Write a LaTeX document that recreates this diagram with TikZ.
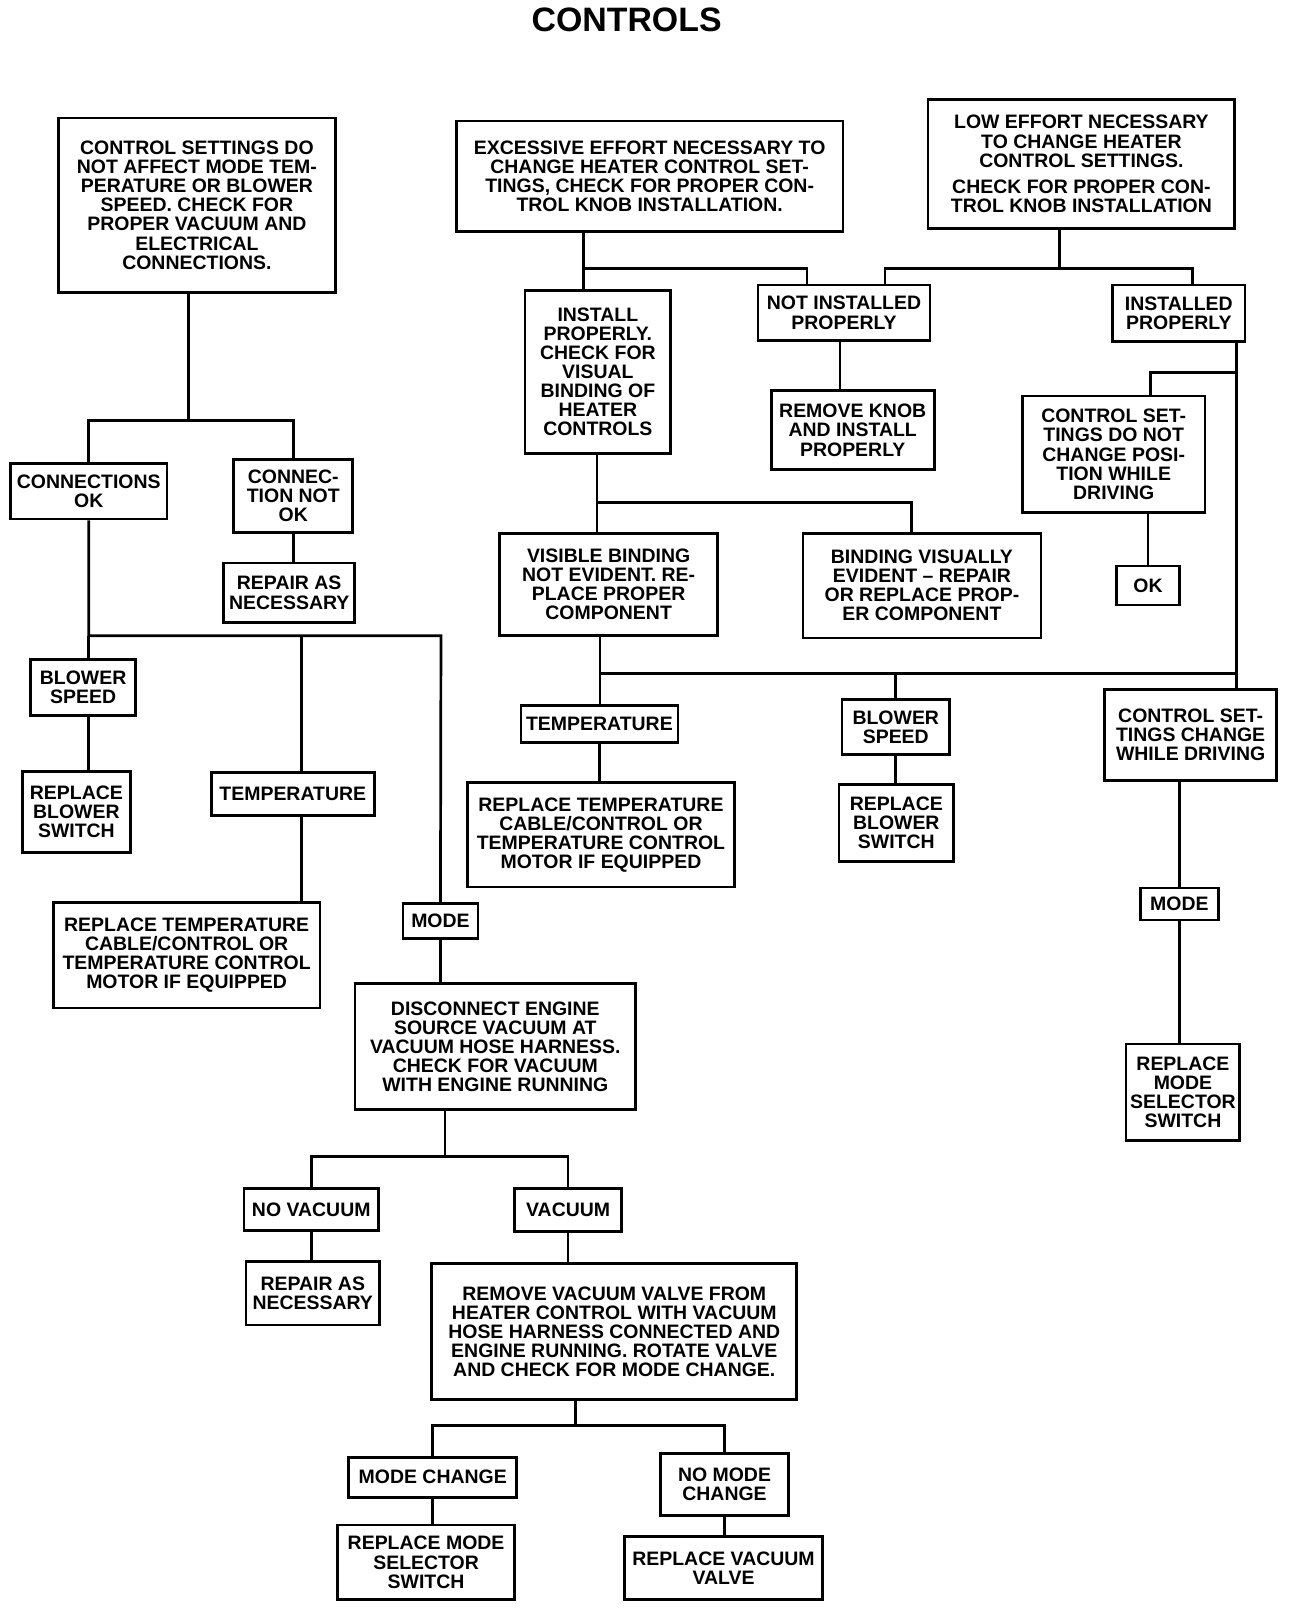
\documentclass[tikz,border=0pt]{standalone}
\usepackage{fontspec}
\setmainfont{Liberation Sans}
\begin{document}
\begin{tikzpicture}[
  x=0.02cm, y=-0.02cm,
  fbox/.style={draw, line width=1.5pt, align=center, inner sep=1pt, font={\fontsize{10.8}{10.6}\selectfont\bfseries}},
  wire/.style={line width=1.5pt}
]
\useasboundingbox (0,0) rectangle (1264,1568);
\node[font={\fontsize{18.8}{21}\selectfont\bfseries}] (title) at (611,19) {CONTROLS};

% left tree
\node[fbox, minimum width=5.40cm, minimum height=3.40cm] (settings) at (192,200) {CONTROL SETTINGS DO\\NOT AFFECT MODE TEM-\\PERATURE OR BLOWER\\SPEED. CHECK FOR\\PROPER VACUUM AND\\ELECTRICAL\\CONNECTIONS.};
\node[fbox, minimum width=3.06cm, minimum height=1.08cm] (connok) at (86.5,479) {CONNECTIONS\\OK};
\node[fbox, minimum width=2.32cm, minimum height=1.42cm] (connnot) at (286,483.5) {CONNEC-\\TION NOT\\OK};
\node[fbox, minimum width=2.56cm, minimum height=1.16cm] (repair) at (282,578) {REPAIR AS\\NECESSARY};
\node[fbox, minimum width=2.04cm, minimum height=1.10cm] (blowL) at (81,670.5) {BLOWER\\SPEED};
\node[fbox, minimum width=2.10cm, minimum height=1.58cm] (repblowL) at (74.5,791.5) {REPLACE\\BLOWER\\SWITCH};
\node[fbox, minimum width=3.18cm, minimum height=0.84cm] (tempL) at (285.5,774) {TEMPERATURE};
\node[fbox, minimum width=5.20cm, minimum height=2.06cm] (reptempL) at (182,931.5) {REPLACE TEMPERATURE\\CABLE/CONTROL OR\\TEMPERATURE CONTROL\\MOTOR IF EQUIPPED};
\node[fbox, minimum width=1.46cm, minimum height=0.68cm] (modeL) at (429.5,898) {MODE};
\node[fbox, minimum width=5.48cm, minimum height=2.46cm] (discon) at (483,1020.5) {DISCONNECT ENGINE\\SOURCE VACUUM AT\\VACUUM HOSE HARNESS.\\CHECK FOR VACUUM\\WITH ENGINE RUNNING};
\node[fbox, minimum width=2.62cm, minimum height=0.82cm] (novac) at (303.5,1179.5) {NO VACUUM};
\node[fbox, minimum width=2.08cm, minimum height=0.84cm] (vac) at (554,1180) {VACUUM};
\node[fbox, minimum width=2.60cm, minimum height=1.24cm] (repvac) at (305,1261) {REPAIR AS\\NECESSARY};
\node[fbox, minimum width=7.12cm, minimum height=2.66cm] (remvalve) at (599,1298.5) {REMOVE VACUUM VALVE FROM\\HEATER CONTROL WITH VACUUM\\HOSE HARNESS CONNECTED AND\\ENGINE RUNNING. ROTATE VALVE\\AND CHECK FOR MODE CHANGE.};
\node[fbox, minimum width=3.28cm, minimum height=0.78cm] (modech) at (422,1440.5) {MODE CHANGE};
\node[fbox, minimum width=2.50cm, minimum height=1.22cm] (nomodech) at (706.5,1447.5) {NO MODE\\CHANGE};
\node[fbox, minimum width=3.46cm, minimum height=1.46cm] (repsel) at (415.5,1523.5) {REPLACE MODE\\SELECTOR\\SWITCH};
\node[fbox, minimum width=3.86cm, minimum height=1.24cm] (repvalve) at (705.5,1529) {REPLACE VACUUM\\VALVE};

% right tree
\node[fbox, minimum width=7.54cm, minimum height=2.16cm] (effort) at (633.5,172) {EXCESSIVE EFFORT NECESSARY TO\\CHANGE HEATER CONTROL SET-\\TINGS, CHECK FOR PROPER CON-\\TROL KNOB INSTALLATION.};
\node[fbox, minimum width=5.98cm, minimum height=2.52cm] (loweff) at (1054.5,160) {LOW EFFORT NECESSARY\\TO CHANGE HEATER\\CONTROL SETTINGS.\\[4pt]CHECK FOR PROPER CON-\\TROL KNOB INSTALLATION};
\node[fbox, minimum width=2.84cm, minimum height=3.18cm] (install) at (583,362.5) {INSTALL\\PROPERLY.\\CHECK FOR\\VISUAL\\BINDING OF\\HEATER\\CONTROLS};
\node[fbox, minimum width=3.36cm, minimum height=1.08cm] (notinst) at (823,305) {NOT INSTALLED\\PROPERLY};
\node[fbox, minimum width=2.58cm, minimum height=1.10cm] (inst) at (1149.5,305.5) {INSTALLED\\PROPERLY};
\node[fbox, minimum width=3.18cm, minimum height=1.54cm] (removek) at (831.5,419.5) {REMOVE KNOB\\AND INSTALL\\PROPERLY};
\node[fbox, minimum width=3.56cm, minimum height=2.28cm] (nochange) at (1086,443) {CONTROL SET-\\TINGS DO NOT\\CHANGE POSI-\\TION WHILE\\DRIVING};
\node[fbox, minimum width=1.22cm, minimum height=0.76cm] (ok) at (1119.5,571) {OK};
\node[fbox, minimum width=4.26cm, minimum height=2.00cm] (nobind) at (593.5,570) {VISIBLE BINDING\\NOT EVIDENT. RE-\\PLACE PROPER\\COMPONENT};
\node[fbox, minimum width=4.64cm, minimum height=2.04cm] (bind) at (899,571) {BINDING VISUALLY\\EVIDENT -- REPAIR\\OR REPLACE PROP-\\ER COMPONENT};
\node[fbox, minimum width=3.06cm, minimum height=0.72cm] (tempR) at (584.5,706) {TEMPERATURE};
\node[fbox, minimum width=5.20cm, minimum height=2.04cm] (reptempR) at (586,814) {REPLACE TEMPERATURE\\CABLE/CONTROL OR\\TEMPERATURE CONTROL\\MOTOR IF EQUIPPED};
\node[fbox, minimum width=2.10cm, minimum height=1.08cm] (blowR) at (873.5,709) {BLOWER\\SPEED};
\node[fbox, minimum width=2.24cm, minimum height=1.50cm] (repblowR) at (874,802.5) {REPLACE\\BLOWER\\SWITCH};
\node[fbox, minimum width=3.36cm, minimum height=1.78cm] (change) at (1161,716.5) {CONTROL SET-\\TINGS CHANGE\\WHILE DRIVING};
\node[fbox, minimum width=1.52cm, minimum height=0.62cm] (modeR) at (1150,881.5) {MODE};
\node[fbox, minimum width=2.22cm, minimum height=1.88cm] (repmodeR) at (1153.5,1065) {REPLACE\\MODE\\SELECTOR\\SWITCH};

% bus points
\coordinate (bSet) at (184,410);
\coordinate (bOk) at (430,620);
\coordinate (bTmp) at (294,620);
\coordinate (bDis) at (434,1128);
\coordinate (bRem) at (561,1390);
\coordinate (bEff) at (569,262);
\coordinate (bLow) at (1033,262);
\coordinate (kIns) at (1206,363);
\coordinate (bIns) at (582,490);
\coordinate (bBind) at (585,657);

% left connectors
\draw[wire] (settings.south -| bSet) -- (bSet);
\draw[wire] (connok.north) |- (bSet) -| (connnot.north);
\draw[wire] (connnot.south) -- (connnot.south |- repair.north);
\draw[wire] (connok.south) |- (bOk) -- (modeL.north);
\draw[wire] (connok.south |- bOk) -- (connok.south |- blowL.north);
\draw[wire] (connok.south |- blowL.south) -- (connok.south |- repblowL.north);
\draw[wire] (bTmp) -- (bTmp |- tempL.north);
\draw[wire] (bTmp |- tempL.south) -- (bTmp |- reptempL.north);
\draw[wire] (modeL.south) -- (modeL.south |- discon.north);
\draw[wire] (discon.south -| bDis) -- (bDis);
\draw[wire] (novac.north) |- (bDis) -| (vac.north);
\draw[wire] (novac.south) -- (novac.south |- repvac.north);
\draw[wire] (vac.south) -- (vac.south |- remvalve.north);
\draw[wire] (remvalve.south -| bRem) -- (bRem);
\draw[wire] (modech.north) |- (bRem) -| (nomodech.north);
\draw[wire] (modech.south) -- (modech.south |- repsel.north);
\draw[wire] (nomodech.south) -- (nomodech.south |- repvalve.north);

% right connectors
\draw[wire] (effort.south -| bEff) -- (bEff |- install.north);
\draw[wire] (bEff) -| ([xshift=-0.72cm]notinst.north);
\draw[wire] (loweff.south -| bLow) -- (bLow);
\draw[wire] ([xshift=0.8cm]notinst.north) |- (bLow) -| ([xshift=0.27cm]inst.north);
\draw[wire] ([xshift=-0.08cm]notinst.south) -- ([xshift=-0.08cm]notinst.south |- removek.north);
\draw[wire] (kIns |- inst.south) -- (kIns |- change.north);
\draw[wire] (kIns) -| ([xshift=0.72cm]nochange.north);
\draw[wire] (ok.north |- nochange.south) -- (ok.north);
\draw[wire] (install.south -| bIns) -- (bIns);
\draw[wire] (bIns |- nobind.north) -- (bIns) -| ([xshift=-0.2cm]bind.north);
\draw[wire] (bBind |- nobind.south) -- (bBind |- tempR.north);
\draw[wire] (bBind) -- (bBind -| kIns);
\draw[wire] (blowR.north |- bBind) -- (blowR.north);
\draw[wire] (tempR.south) -- (tempR.south |- reptempR.north);
\draw[wire] (blowR.south) -- (blowR.south |- repblowR.north);
\draw[wire] (modeR.north |- change.south) -- (modeR.north);
\draw[wire] (modeR.south) -- (modeR.south |- repmodeR.north);
\end{tikzpicture}
\end{document}
